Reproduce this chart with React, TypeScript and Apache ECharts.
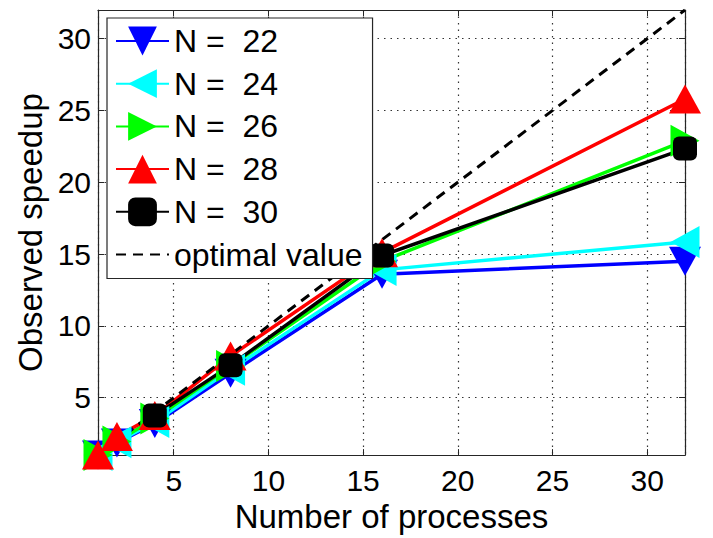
import React, { useEffect, useRef } from "react";
import * as echarts from "echarts";

const processes = [1, 2, 4, 8, 16, 32];
const seriesNames = ["N =  22", "N =  24", "N =  26", "N =  28", "N =  30"];
const n22 = [1, 1.85, 3.2, 6.7, 13.6, 14.5];
const n24 = [1, 1.9, 3.3, 6.95, 13.9, 15.85];
const n26 = [1, 1.95, 3.55, 7.2, 14.5, 22.9];
const n28 = [1, 2.3, 3.75, 7.9, 15.1, 25.8];
const n30 = [null, null, 3.75, 7.25, 14.9, 22.35];
const optimalX = [1, 32];
const optimalY = [1, 32];
const optimalName = "optimal value";

const colors = ["#0000ff", "#00ffff", "#00ff00", "#ff0000", "#000000"];
const symbols = [
  "path://M0,0 L10,0 L5,9 Z",
  "path://M0,5 L9,0 L9,10 Z",
  "path://M9,5 L0,0 L0,10 Z",
  "triangle",
  "roundRect",
];
const symbolSizes: any[] = [[32, 29], [29, 32], [29, 32], [32, 29], 24];

const FONT = "'Liberation Sans', Arial, Helvetica, sans-serif";

export default function App() {
  const ref = useRef<HTMLDivElement>(null);
  useEffect(() => {
    if (!ref.current) return;
    const chart = echarts.init(ref.current, undefined, { renderer: "svg" });
    const allValues = [n22, n24, n26, n28, n30];
    const series: any[] = allValues.map((vals, i) => ({
      name: seriesNames[i],
      type: "line",
      xAxisIndex: 0,
      yAxisIndex: 0,
      data: processes
        .map((x, j) => (vals[j] === null ? null : [x, vals[j]]))
        .filter((d) => d !== null),
      symbol: symbols[i],
      symbolSize: symbolSizes[i],
      showAllSymbol: true,
      lineStyle: { color: colors[i], width: 3.5 },
      itemStyle: { color: colors[i], borderWidth: 0 },
      emphasis: { disabled: true },
    }));
    series.push({
      name: optimalName,
      type: "line",
      data: optimalX.map((x, j) => [x, optimalY[j]]),
      symbol: "none",
      lineStyle: { color: "#000", width: 3, type: [10, 7] },
      itemStyle: { color: "#000" },
      emphasis: { disabled: true },
    });

    const axisCommon = {
      type: "value",
      min: 1,
      max: 32,
      axisLine: { show: true, onZero: false, lineStyle: { color: "#262626", width: 1.2 } },
      axisTick: { show: true, inside: true, length: 6, lineStyle: { color: "#262626" } },
    };

    chart.setOption({
      animation: false,
      backgroundColor: "#ffffff",
      textStyle: { fontFamily: FONT },
      grid: { left: 98, right: 28, top: 10, bottom: 82, containLabel: false },
      legend: {
        show: true,
        orient: "vertical",
        left: 107,
        top: 18,
        padding: [7, 10, 8, 8],
        itemWidth: 53,
        itemHeight: 36,
        itemGap: 10.7,
        backgroundColor: "#ffffff",
        borderColor: "#262626",
        borderWidth: 1.2,
        borderRadius: 0,
        selectedMode: false,
        textStyle: { fontSize: 32, color: "#000", fontFamily: FONT },
        data: [
          ...seriesNames.map((n) => ({ name: n })),
          { name: optimalName, itemStyle: { opacity: 0 } },
        ],
      },
      xAxis: [
        {
          ...axisCommon,
          position: "bottom",
          name: "Number of processes",
          nameLocation: "middle",
          nameGap: 34,
          nameTextStyle: { fontSize: 33, color: "#000", fontFamily: FONT },
          axisLabel: {
            show: true,
            fontSize: 30,
            color: "#000",
            margin: 10,
            showMinLabel: false,
            showMaxLabel: false,
            fontFamily: FONT,
          },
          splitLine: { show: true, lineStyle: { color: "#333", width: 1.2, type: [1.5, 5] } },
        },
        {
          ...axisCommon,
          position: "top",
          axisLabel: { show: false },
          splitLine: { show: false },
        },
      ],
      yAxis: [
        {
          ...axisCommon,
          position: "left",
          name: "Observed speedup",
          nameLocation: "middle",
          nameGap: 51,
          nameTextStyle: { fontSize: 33, color: "#000", fontFamily: FONT },
          axisLabel: {
            show: true,
            fontSize: 30,
            color: "#000",
            margin: 7,
            showMinLabel: false,
            showMaxLabel: false,
            fontFamily: FONT,
          },
          splitLine: { show: true, lineStyle: { color: "#333", width: 1.2, type: [1.5, 5] } },
        },
        {
          ...axisCommon,
          position: "right",
          axisLabel: { show: false },
          splitLine: { show: false },
        },
      ],
      series,
    });
    return () => chart.dispose();
  }, []);
  return (
    <div
      ref={ref}
      style={{ position: "fixed", left: 0, top: 0, width: 713, height: 538, background: "#fff" }}
    />
  );
}
